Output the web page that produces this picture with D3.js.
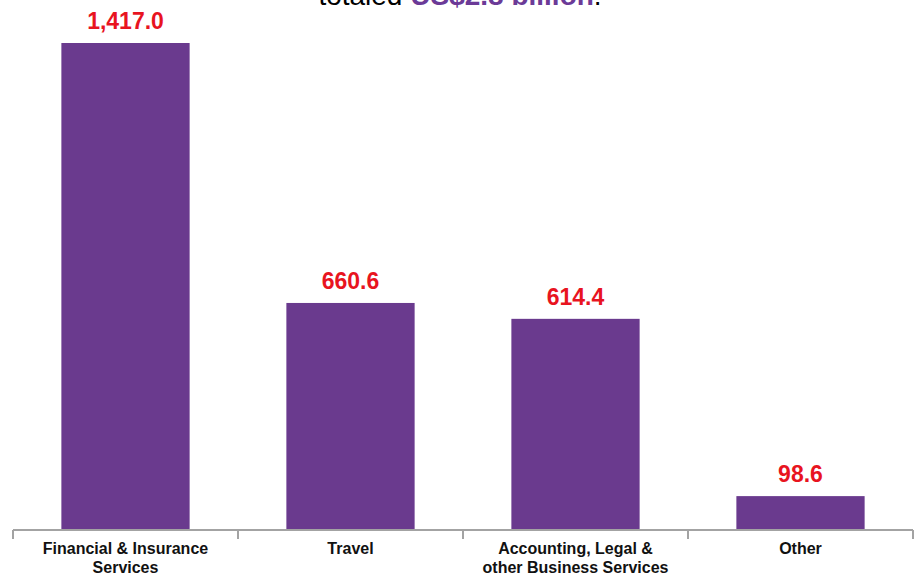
<!DOCTYPE html>
<html>
<head>
<meta charset="utf-8">
<script src="https://cdn.jsdelivr.net/npm/d3@7"></script>
<style>
    body { margin: 0; background: #fff; }
    svg { display: block; font-family: "Liberation Sans", Arial, sans-serif; }
</style>
</head>
<body>
<div id="chart-container"></div>
<script>
const width = 917;
const height = 576;

// data (US$ million)
const categories = [
    ["Financial & Insurance", "Services"],
    ["Travel"],
    ["Accounting, Legal &", "other Business Services"],
    ["Other"]
];
const values = [1417.0, 660.6, 614.4, 98.6];
const valueLabels = ["1,417.0", "660.6", "614.4", "98.6"];

const svg = d3.select("#chart-container")
    .append("svg")
    .attr("width", width)
    .attr("height", height);

const x = d3.scaleBand()
    .domain(d3.range(values.length))
    .range([13, 913])
    .paddingInner(0.43)
    .paddingOuter(0.215);

const y = d3.scaleLinear()
    .domain([0, 1417])
    .range([530, 43]);

// title (cut off at the top, as in the source slide)
const title = svg.append("text")
    .attr("x", 460)
    .attr("y", 5)
    .attr("text-anchor", "middle")
    .attr("font-size", 28);
title.append("tspan").attr("fill", "#000").text("totaled ");
title.append("tspan").attr("fill", "#6b3a97").attr("font-weight", "bold").text("US$2.8 billion");
title.append("tspan").attr("fill", "#000").text(".");

// bars
svg.selectAll("rect.bar")
    .data(values)
    .enter()
    .append("rect")
    .attr("class", "bar")
    .attr("x", (d, i) => x(i))
    .attr("y", d => y(d))
    .attr("width", x.bandwidth())
    .attr("height", d => y(0) - y(d))
    .attr("fill", "#6a3a8e");

// value labels
svg.selectAll("text.value")
    .data(values)
    .enter()
    .append("text")
    .attr("class", "value")
    .attr("x", (d, i) => x(i) + x.bandwidth() / 2)
    .attr("y", d => y(d) - 14)
    .attr("text-anchor", "middle")
    .attr("font-size", 23)
    .attr("font-weight", "bold")
    .attr("fill", "#e8141f")
    .text((d, i) => valueLabels[i]);

// axis line and ticks at band edges
const edges = d3.range(values.length + 1).map(i => 13 + i * (900 / values.length));
svg.append("line")
    .attr("x1", 13)
    .attr("x2", 913)
    .attr("y1", y(0))
    .attr("y2", y(0))
    .attr("stroke", "#a3a3a3")
    .attr("stroke-width", 2);

svg.selectAll("line.tick")
    .data(edges)
    .enter()
    .append("line")
    .attr("class", "tick")
    .attr("x1", d => d)
    .attr("x2", d => d)
    .attr("y1", y(0))
    .attr("y2", y(0) + 9)
    .attr("stroke", "#a3a3a3")
    .attr("stroke-width", 2);

// category labels
svg.selectAll("text.cat")
    .data(categories)
    .enter()
    .append("text")
    .attr("class", "cat")
    .attr("text-anchor", "middle")
    .attr("font-size", 16)
    .attr("font-weight", "bold")
    .attr("fill", "#111")
    .each(function (d, i) {
        d3.select(this).selectAll("tspan")
            .data(d)
            .enter()
            .append("tspan")
            .attr("x", x(i) + x.bandwidth() / 2)
            .attr("y", (t, j) => 554 + j * 19)
            .text(t => t);
    });
</script>
</body>
</html>
